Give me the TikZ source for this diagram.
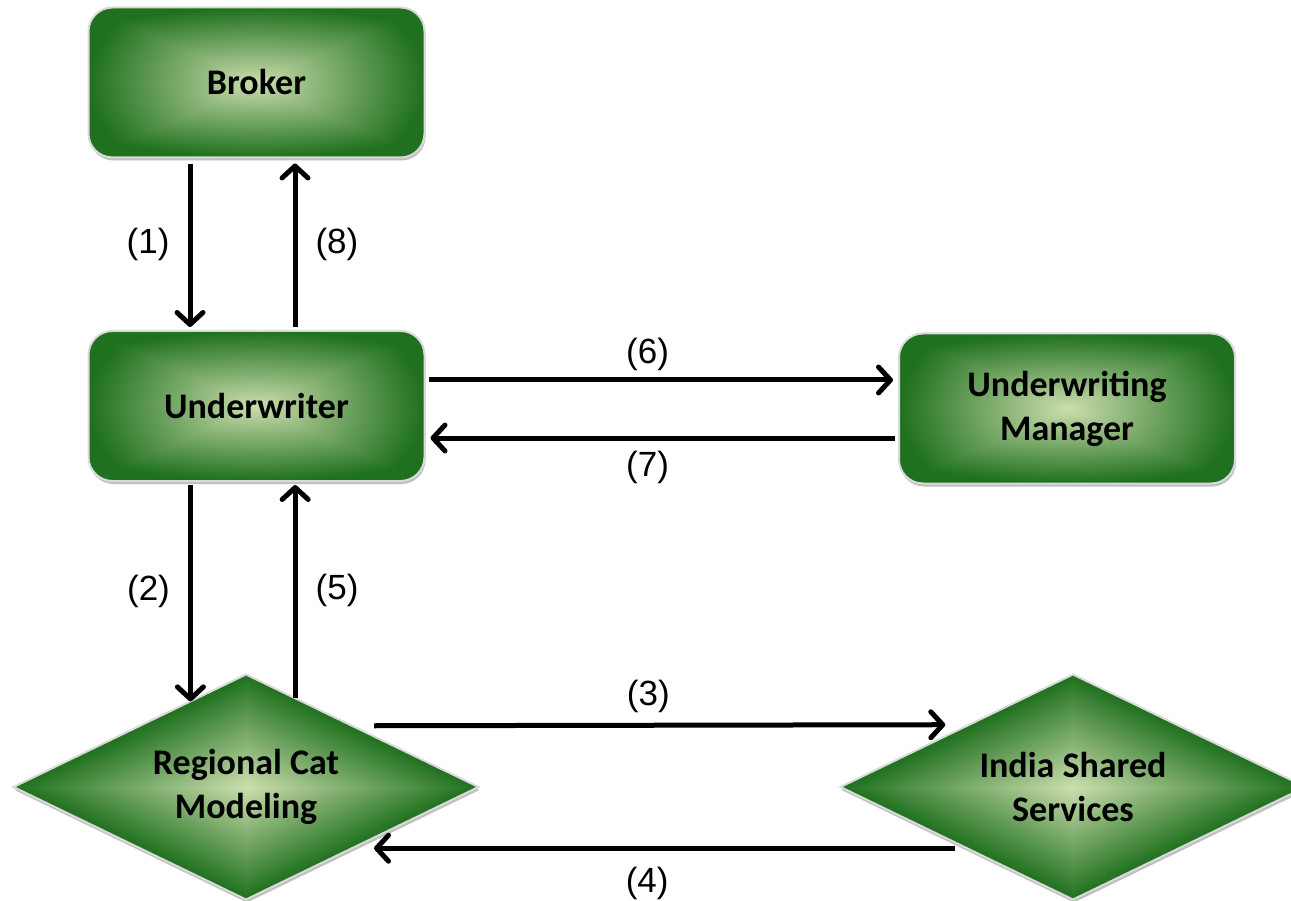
\documentclass[tikz,border=0pt]{standalone}
\usepackage{fontspec}
\setmainfont{Carlito}
\newfontfamily\labelfont{Liberation Sans}
\usetikzlibrary{arrows.meta,positioning,shapes.geometric,shadows}

% green fill, pale in the middle and dark at the rim
\pgfdeclarefunctionalshading{boxglow}{\pgfpoint{-50bp}{-50bp}}{\pgfpoint{50bp}{50bp}}{}{
  2 copy dup mul exch dup mul add sqrt 3 1 roll
  abs exch abs 2 copy lt {exch} if pop add 50 div dup 1 gt {pop 1} if
  dup -0.68 mul 0.80 add exch dup -0.43 mul 0.87 add exch -0.56 mul 0.68 add}
\pgfdeclarefunctionalshading{diamondglow}{\pgfpoint{-50bp}{-50bp}}{\pgfpoint{50bp}{50bp}}{}{
  abs exch abs add 25 div dup 1 gt {pop 1} if
  dup -0.68 mul 0.80 add exch dup -0.43 mul 0.87 add exch -0.56 mul 0.68 add}

\tikzset{
  box/.style={rectangle, rounded corners=24pt, minimum width=336pt, minimum height=150pt,
    shading=boxglow, draw=gray!30, line width=2pt,
    drop shadow={shadow xshift=1pt, shadow yshift=-3pt, opacity=0.25, fill=black},
    font=\bfseries\fontsize{36}{44}\selectfont, align=center},
  decision/.style={diamond, shape aspect=2.07, minimum width=465pt, minimum height=225pt,
    inner sep=0pt, outer sep=0pt, shading=diamondglow, draw=gray!30, line width=2pt,
    drop shadow={shadow xshift=1pt, shadow yshift=-3pt, opacity=0.25, fill=black},
    font=\bfseries\fontsize{36}{44}\selectfont, align=center},
  flow/.style={line width=5pt, -{Straight Barb[length=12pt,width=26pt,round]}},
  num/.style={font=\labelfont\fontsize{35}{40}\selectfont, inner sep=0pt}
}

\begin{document}
\begin{tikzpicture}[x=1pt, y=-1pt]
	\useasboundingbox (0,0) rectangle (1291,901);

	% boxes
	\node[box] (broker) at (256.5,82.5) {Broker};
	\node[box] (uw) at (256.5,406) {Underwriter};
	\node[box] (um) at (1067,408.5) {Underwriting\\Manager};
	% diamonds
	\node[decision] (rcm) at (246,787) {Regional Cat\\Modeling};
	\node[decision] (iss) at (1073,787) {India Shared\\Services};

	% broker <-> underwriter
	\draw[flow, shorten <=6pt, shorten >=3pt] ([xshift=-66.5pt]broker.south) -- node[num, left=18pt] {(1)} ([xshift=-66.5pt]uw.north);
	\draw[flow, shorten <=3pt, shorten >=5pt] ([xshift=38.5pt]uw.north) -- node[num, right=18pt] {(8)} ([xshift=38.5pt]broker.south);

	% underwriter <-> cat modeling
	\draw[flow, shorten <=3pt] (rcm.123 |- uw.south) -- node[num, left=18pt] {(2)} (rcm.123);
	\draw[flow, shorten >=3pt] (rcm.61) -- node[num, right=18pt] {(5)} (rcm.61 |- uw.south);

	% underwriter <-> manager
	\draw[flow, shorten <=3pt, shorten >=5pt] ([yshift=26pt]uw.east) -- node[num, pos=0.47, above=7pt] {(6)} ([yshift=26pt]uw.east -| um.west);
	\draw[flow, shorten <=3pt, shorten >=5pt] ([yshift=-32pt]uw.east -| um.west) -- node[num, pos=0.53, below=11pt] {(7)} ([yshift=-32pt]uw.east);

	% cat modeling <-> shared services
	\draw[flow, shorten <=22pt, shorten >=24pt] (rcm.30.8) -- node[num, pos=0.48, above=10pt] {(3)} (iss.149.2);
	\draw[flow, shorten <=12pt, shorten >=22pt] (iss.210.8) -- node[num, pos=0.52, below=16pt] {(4)} (rcm.-30.8);

\end{tikzpicture}
\end{document}
